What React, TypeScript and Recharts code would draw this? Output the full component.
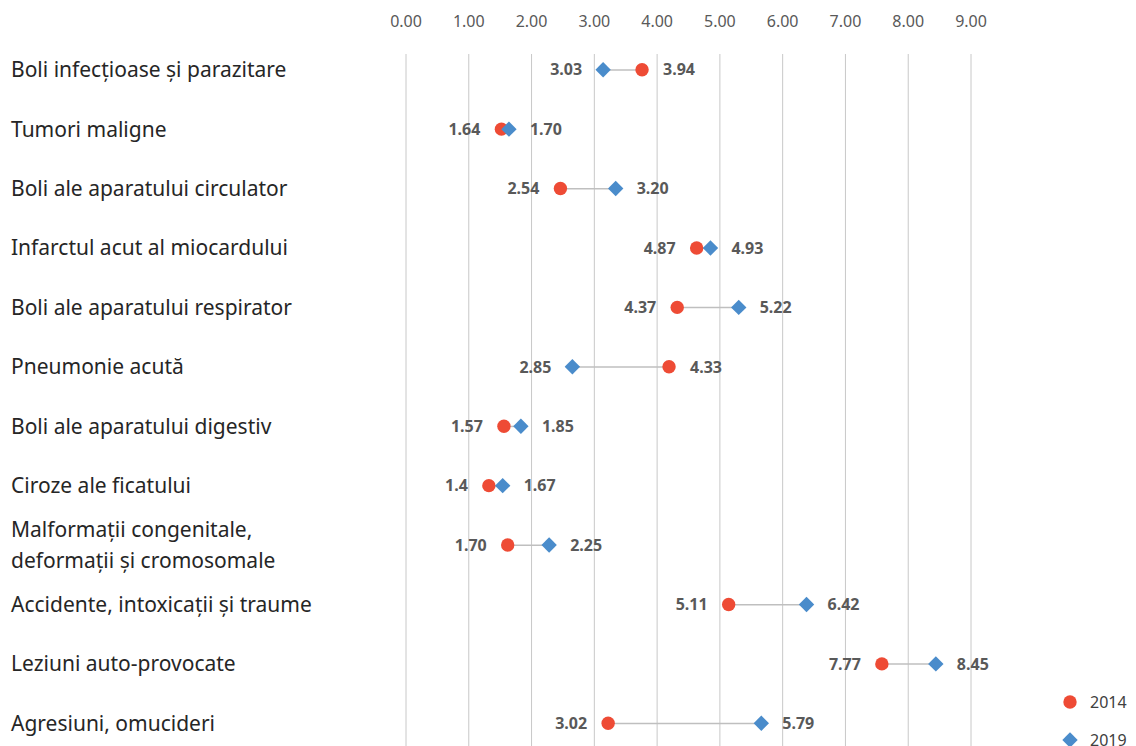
import React from "react";
import {
  ComposedChart,
  XAxis,
  YAxis,
  CartesianGrid,
  Line,
  Bar,
  Legend,
  Text,
} from "recharts";

const categories: string[] = [
  "Boli infecțioase și parazitare",
  "Tumori maligne",
  "Boli ale aparatului circulator",
  "Infarctul acut al miocardului",
  "Boli ale aparatului respirator",
  "Pneumonie acută",
  "Boli ale aparatului digestiv",
  "Ciroze ale ficatului",
  "Malformații congenitale, deformații și cromosomale",
  "Accidente, intoxicații și traume",
  "Leziuni auto-provocate",
  "Agresiuni, omucideri",
];

const values2014: number[] = [3.76, 1.52, 2.46, 4.63, 4.32, 4.19, 1.56, 1.32, 1.62, 5.14, 7.58, 3.22];
const values2019: number[] = [3.14, 1.64, 3.34, 4.85, 5.3, 2.65, 1.83, 1.54, 2.28, 6.38, 8.44, 5.66];

const labels2014: string[] = ["3.94", "1.64", "2.54", "4.87", "4.37", "4.33", "1.57", "1.4", "1.70", "5.11", "7.77", "3.02"];
const labels2019: string[] = ["3.03", "1.70", "3.20", "4.93", "5.22", "2.85", "1.85", "1.67", "2.25", "6.42", "8.45", "5.79"];

const xTicks: number[] = [0, 1, 2, 3, 4, 5, 6, 7, 8, 9];
const seriesNames: string[] = ["2014", "2019"];

const RED = "#EE4B35";
const BLUE = "#4A8CCB";
const FONT = "'Noto Sans', 'Open Sans', sans-serif";

const data = categories.map((cat, i) => ({
  cat,
  v2014: values2014[i],
  v2019: values2019[i],
  l2014: labels2014[i],
  l2019: labels2019[i],
  range: [Math.min(values2014[i], values2019[i]), Math.max(values2014[i], values2019[i])],
}));

const LABEL_GAP = 21;

const valueLabel = (cx: number, cy: number, text: string, left: boolean) => (
  <text
    x={left ? cx - LABEL_GAP : cx + LABEL_GAP}
    y={cy}
    dy="0.36em"
    textAnchor={left ? "end" : "start"}
    fill="#595959"
    fontSize={16}
    fontWeight={700}
    fontFamily={FONT}
  >
    {text}
  </text>
);

const CircleDot = (props: any) => {
  const { cx, cy, payload, index } = props;
  if (cx == null || cy == null) return <g key={`c-${index}`} />;
  const left = payload.v2014 <= payload.v2019;
  return (
    <g key={`c-${index}`}>
      <circle cx={cx} cy={cy} r={6.7} fill={RED} />
      {valueLabel(cx, cy, payload.l2014, left)}
    </g>
  );
};

const DiamondDot = (props: any) => {
  const { cx, cy, payload, index } = props;
  if (cx == null || cy == null) return <g key={`d-${index}`} />;
  const left = payload.v2019 < payload.v2014;
  const h = 7.7;
  return (
    <g key={`d-${index}`}>
      <path d={`M${cx},${cy - h}L${cx + h},${cy}L${cx},${cy + h}L${cx - h},${cy}Z`} fill={BLUE} />
      {valueLabel(cx, cy, payload.l2019, left)}
    </g>
  );
};

const Connector = (props: any) => {
  const { x, y, width, height } = props;
  const my = y + height / 2;
  return <line x1={x} x2={x + width} y1={my} y2={my} stroke="#BFBFBF" strokeWidth={1.5} />;
};

const CategoryTick = (props: any) => {
  const { y, payload } = props;
  return (
    <Text
      x={11}
      y={y}
      width={250}
      textAnchor="start"
      verticalAnchor="middle"
      lineHeight="1.43em"
      fill="#262626"
      fontSize={21}
      fontFamily={FONT}
      style={{ fontFamily: FONT, fontSize: 21 }}
    >
      {payload.value}
    </Text>
  );
};

const GridLine = (props: any) => {
  const { x1, x2, y2 } = props;
  return <line x1={x1} x2={x2} y1={54} y2={y2} stroke="#C8C8C8" strokeWidth={1} />;
};

const LegendContent = () => (
  <div style={{ fontFamily: FONT, fontSize: 16, color: "#404040" }}>
    {seriesNames.map((name, i) => (
      <div key={name} style={{ display: "flex", alignItems: "center", height: 38 }}>
        <svg width={24} height={24} style={{ marginRight: 8 }}>
          {i === 0 ? (
            <circle cx={12} cy={12} r={6.7} fill={RED} />
          ) : (
            <path d="M12,4.3L19.7,12L12,19.7L4.3,12Z" fill={BLUE} />
          )}
        </svg>
        <span>{name}</span>
      </div>
    ))}
  </div>
);

export default function App() {
  return (
    <div
      style={{
        position: "fixed",
        left: 0,
        top: 0,
        width: 1136,
        height: 746,
        overflow: "hidden",
        background: "#ffffff",
        fontFamily: FONT,
      }}
    >
      <ComposedChart
        width={1136}
        height={753}
        data={data}
        layout="vertical"
        margin={{ top: 0, right: 165, bottom: 0, left: 0 }}
      >
        <CartesianGrid horizontal={false} vertical={GridLine} />
        <XAxis
          type="number"
          orientation="top"
          domain={[0, 9]}
          ticks={xTicks}
          height={40}
          axisLine={false}
          tickLine={false}
          tickSize={0}
          tickMargin={13}
          interval={0}
          tickFormatter={(v: number) => v.toFixed(2)}
          tick={{ fill: "#595959", fontSize: 16, fontFamily: FONT }}
        />
        <YAxis
          type="category"
          dataKey="cat"
          width={406}
          axisLine={false}
          tickLine={false}
          interval={0}
          tick={CategoryTick}
        />
        <Bar dataKey="range" shape={Connector} isAnimationActive={false} legendType="none" />
        <Line
          dataKey="v2014"
          name="2014"
          stroke="none"
          dot={CircleDot}
          activeDot={false}
          isAnimationActive={false}
        />
        <Line
          dataKey="v2019"
          name="2019"
          stroke="none"
          dot={DiamondDot}
          activeDot={false}
          isAnimationActive={false}
        />
        <Legend
          layout="vertical"
          align="center"
          verticalAlign="middle"
          content={LegendContent}
          wrapperStyle={{ left: 1058, top: 683, width: 90 }}
        />
      </ComposedChart>
    </div>
  );
}
